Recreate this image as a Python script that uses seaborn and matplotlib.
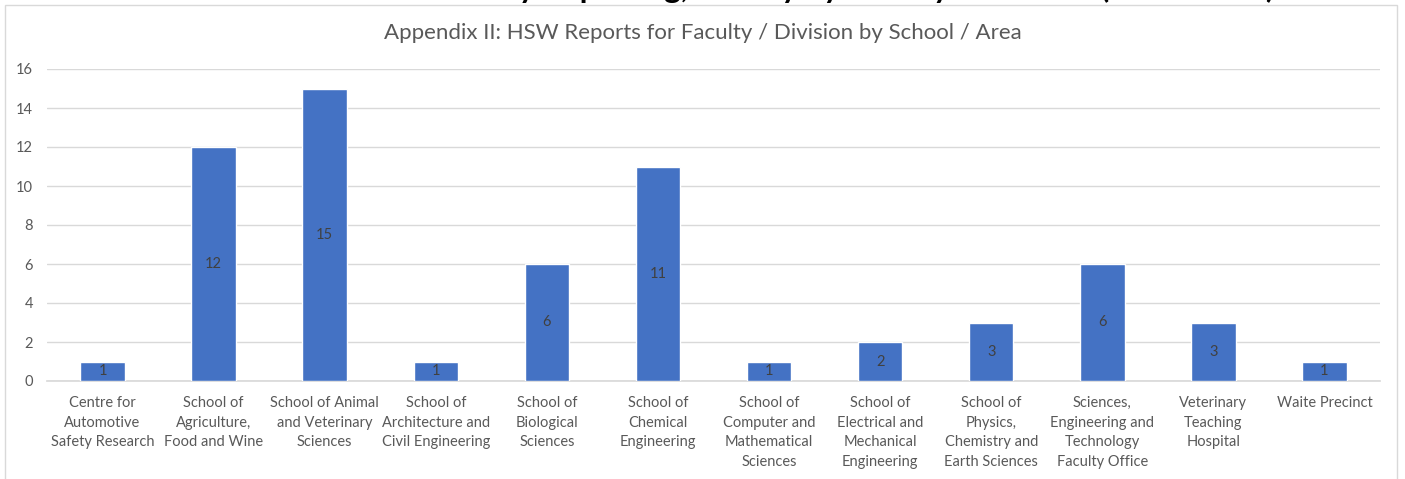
import matplotlib
matplotlib.use("Agg")
import matplotlib.pyplot as plt
import pandas as pd
import seaborn as sns
from matplotlib.patches import Rectangle

categories = [
    "Centre for\nAutomotive\nSafety Research",
    "School of\nAgriculture,\nFood and Wine",
    "School of Animal\nand Veterinary\nSciences",
    "School of\nArchitecture and\nCivil Engineering",
    "School of\nBiological\nSciences",
    "School of\nChemical\nEngineering",
    "School of\nComputer and\nMathematical\nSciences",
    "School of\nElectrical and\nMechanical\nEngineering",
    "School of\nPhysics,\nChemistry and\nEarth Sciences",
    "Sciences,\nEngineering and\nTechnology\nFaculty Office",
    "Veterinary\nTeaching\nHospital",
    "Waite Precinct",
]
reports = [1, 12, 15, 1, 6, 11, 1, 2, 3, 6, 3, 1]
yticks = [0, 2, 4, 6, 8, 10, 12, 14, 16]

title = "Appendix II: HSW Reports for Faculty / Division by School / Area"
header = "Health and Safety Reporting, Faculty by Faculty / Division (2019-2020)"

sns.set_theme(style="white")
plt.rcParams["font.family"] = ["Lato", "DejaVu Sans"]

df = pd.DataFrame({"area": categories, "reports": reports})

fig = plt.figure(figsize=(14.05, 4.79), dpi=100)
ax = fig.add_axes([47 / 1405, 1 - 381 / 479, (1380 - 47) / 1405, (381 - 69) / 479])

sns.barplot(data=df, x="area", y="reports", color="#4472C4", width=0.4,
            saturation=1, ax=ax, zorder=3)

for c in ax.containers:
    ax.bar_label(c, label_type="center", color="#404040", fontsize=10.5)

ax.set_ylim(0, 16)
ax.set_yticks(yticks)
ax.grid(axis="y", color="#d9d9d9", linewidth=1, zorder=0)
ax.set_xlabel("")
ax.set_ylabel("")
for s in ["top", "right", "left"]:
    ax.spines[s].set_visible(False)
ax.spines["bottom"].set_color("#d9d9d9")
ax.tick_params(axis="both", length=0, colors="#595959", labelsize=10.5)
ax.tick_params(axis="y", pad=10)
ax.tick_params(axis="x", pad=11)
for lbl in ax.get_xticklabels():
    lbl.set_linespacing(1.5)
    lbl.set_verticalalignment("top")

fig.text(703 / 1405, 1 - 33 / 479, title, ha="center", va="center",
         fontsize=16, color="#595959")

# chart border
fig.add_artist(Rectangle((5 / 1405, -0.05), 1392 / 1405, 1 - 5 / 479 + 0.05,
                         transform=fig.transFigure, fill=False,
                         edgecolor="#d9d9d9", linewidth=1))

# clipped heading from the page above the chart
fig.text(780 / 1405, 1 + 2 / 479, header, ha="center", va="baseline",
         fontsize=22.5, fontweight="bold", color="black")

fig.savefig("out.png", dpi=100)
